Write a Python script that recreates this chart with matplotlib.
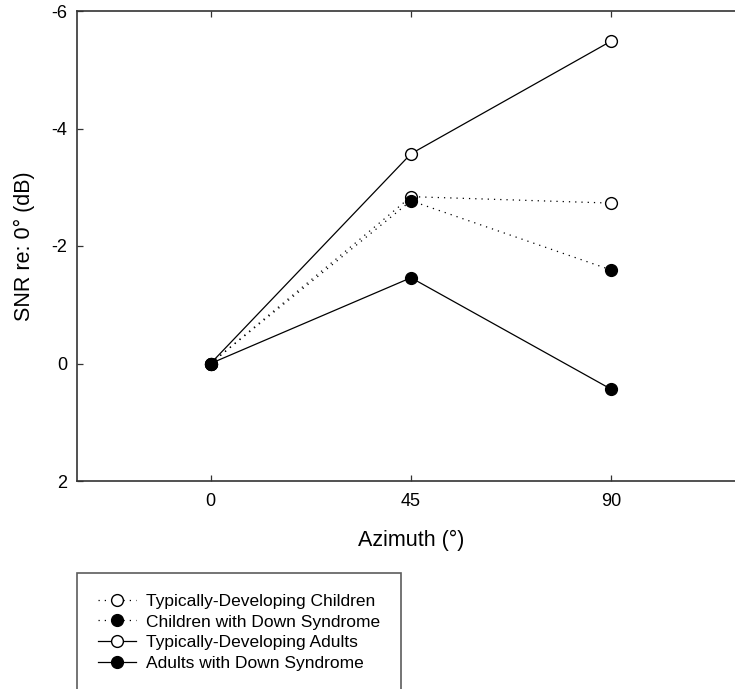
import matplotlib
matplotlib.use('Agg')
import matplotlib.pyplot as plt

plt.rcParams['font.family'] = ['Liberation Sans', 'DejaVu Sans']
plt.rcParams['axes.unicode_minus'] = False

azimuth = [0, 45, 90]
td_children = [0, -2.84, -2.73]
ds_children = [0, -2.77, -1.59]
td_adults = [0, -3.57, -5.49]
ds_adults = [0, -1.46, 0.44]

labels = ['Typically-Developing Children', 'Children with Down Syndrome',
          'Typically-Developing Adults', 'Adults with Down Syndrome']
yticks = [-6, -4, -2, 0, 2]
xticks = [0, 45, 90]

fig = plt.figure(figsize=(7.35, 6.89), dpi=100)
ax = fig.add_axes([77/735, 1 - 481/689, 668/735, 470/689])

dotted = (0, (1, 4))
common = dict(color='black', lw=0.9, marker='o', markersize=8.5,
              markeredgecolor='black', markeredgewidth=1.0)

ax.plot(azimuth, td_children, ls=dotted, markerfacecolor='white', label=labels[0], **common)
ax.plot(azimuth, ds_children, ls=dotted, markerfacecolor='black', label=labels[1], **common)
ax.plot(azimuth, td_adults, ls='-', markerfacecolor='white', label=labels[2], **common)
ax.plot(azimuth, ds_adults, ls='-', markerfacecolor='black', label=labels[3], **common)

ax.set_xlim(-30, 120)
ax.set_ylim(2, -6)
ax.set_xticks(xticks)
ax.set_yticks(yticks)
ax.tick_params(direction='in', length=4.5, width=0.9, labelsize=13, pad=7,
               top=True, color='#333333')
ax.tick_params(axis='x', pad=9)
for side in ['left', 'bottom', 'top']:
    ax.spines[side].set_linewidth(1.2)
    ax.spines[side].set_color('#333333')
ax.spines['right'].set_visible(False)

ax.set_xlabel('Azimuth (°)', fontsize=15.5, labelpad=14)
ax.set_ylabel('SNR re: 0° (dB)', fontsize=15.5, labelpad=12)

leg = fig.legend(loc='upper left', bbox_to_anchor=(77/735, 1 - 573/689),
                 bbox_transform=fig.transFigure, fontsize=12.5, frameon=True,
                 fancybox=False, handlelength=2.2, borderpad=1.2,
                 labelspacing=0.31, handletextpad=0.6, borderaxespad=0)
leg.get_frame().set_edgecolor('#333333')
leg.get_frame().set_linewidth(1.2)

fig.savefig('out.png', dpi=100)
